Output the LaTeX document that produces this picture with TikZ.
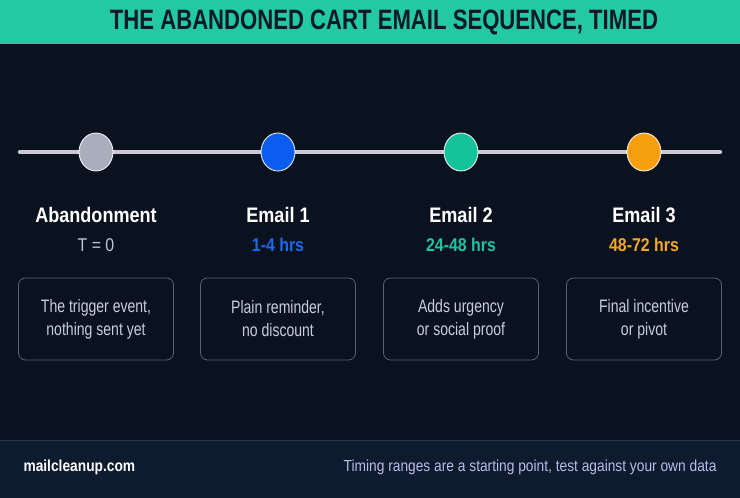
\documentclass[tikz,border=0pt]{standalone}
\usepackage{fontspec}
\usetikzlibrary{shapes.geometric}
\setmainfont{Liberation Sans}[FakeStretch=0.86]
\newfontfamily\titlefont{Liberation Sans}[FakeStretch=0.79]
\newfontfamily\cardfont{Liberation Sans}[FakeStretch=0.78]
\definecolor{bgdark}{HTML}{0A1220}
\definecolor{footbg}{HTML}{0E1A2E}
\definecolor{footline}{HTML}{2A3448}
\definecolor{barteal}{HTML}{22C9A2}
\definecolor{titleink}{HTML}{0B1A26}
\definecolor{linegray}{HTML}{C8CAD6}
\definecolor{dotgray}{HTML}{A9AEBD}
\definecolor{dotblue}{HTML}{0B5CF0}
\definecolor{dotteal}{HTML}{15C39A}
\definecolor{dotorange}{HTML}{F5A00C}
\definecolor{subgray}{HTML}{C0C4D0}
\definecolor{subblue}{HTML}{1A6AF0}
\definecolor{subteal}{HTML}{1EC49C}
\definecolor{suborange}{HTML}{F5A623}
\definecolor{cardline}{HTML}{5A6172}
\definecolor{cardtext}{HTML}{C9CCE0}
\definecolor{notetext}{HTML}{B8BCE8}
\tikzset{
  dot/.style={ellipse, draw=white, line width=.8pt, minimum width=34pt, minimum height=38pt, inner sep=0pt},
  head/.style={text=white, font=\fontsize{21}{24}\selectfont\bfseries},
  sub/.style={font=\fontsize{18.5}{22}\selectfont\bfseries},
  card/.style={draw=cardline, line width=.8pt, rounded corners=7pt, minimum width=155pt,
    minimum height=82pt, align=center, text=cardtext, font=\cardfont\fontsize{18}{23}\selectfont}
}
\begin{document}
\begin{tikzpicture}[x=1pt,y=-1pt]
	\useasboundingbox (0,0) rectangle (740,498);
	\fill[bgdark] (0,0) rectangle (740,498);
	\fill[footbg] (0,440) rectangle (740,498);
	\draw[footline, line width=1pt] (0,440) -- (740,440);
	\fill[barteal] (0,0) rectangle (740,44);
	\node[text=titleink, font=\titlefont\fontsize{28}{30}\selectfont\bfseries] (title) at (384,22) {THE ABANDONED CART EMAIL SEQUENCE, TIMED};

	\coordinate (start) at (20,152);
	\coordinate (end) at (720,152);
	\draw[linegray, line width=4.5pt, line cap=round] (start) -- (end);

	\node[dot, fill=dotgray] (d0) at (96,152) {};
	\node[head] (h0) at (96,215) {Abandonment};
	\node[sub, text=subgray, font=\fontsize{18.5}{22}\selectfont] (s0) at (96,245) {T = 0};
	\node[card] (c0) at (96,319) {The trigger event,\\nothing sent yet};

	\node[dot, fill=dotblue] (d1) at (278,152) {};
	\node[head] (h1) at (278,215) {Email 1};
	\node[sub, text=subblue] (s1) at (278,245) {1-4 hrs};
	\node[card] (c1) at (278,319) {Plain reminder,\\no discount};

	\node[dot, fill=dotteal] (d2) at (461,152) {};
	\node[head] (h2) at (461,215) {Email 2};
	\node[sub, text=subteal] (s2) at (461,245) {24-48 hrs};
	\node[card] (c2) at (461,319) {Adds urgency\\or social proof};

	\node[dot, fill=dotorange] (d3) at (644,152) {};
	\node[head] (h3) at (644,215) {Email 3};
	\node[sub, text=suborange] (s3) at (644,245) {48-72 hrs};
	\node[card] (c3) at (644,319) {Final incentive\\or pivot};

	\node[anchor=west, text=white, font=\fontsize{16}{18}\selectfont\bfseries] (site) at (20,467) {mailcleanup.com};
	\node[anchor=east, text=notetext, font=\fontsize{16}{18}\selectfont] (note) at (720,467) {Timing ranges are a starting point, test against your own data};
\end{tikzpicture}
\end{document}
